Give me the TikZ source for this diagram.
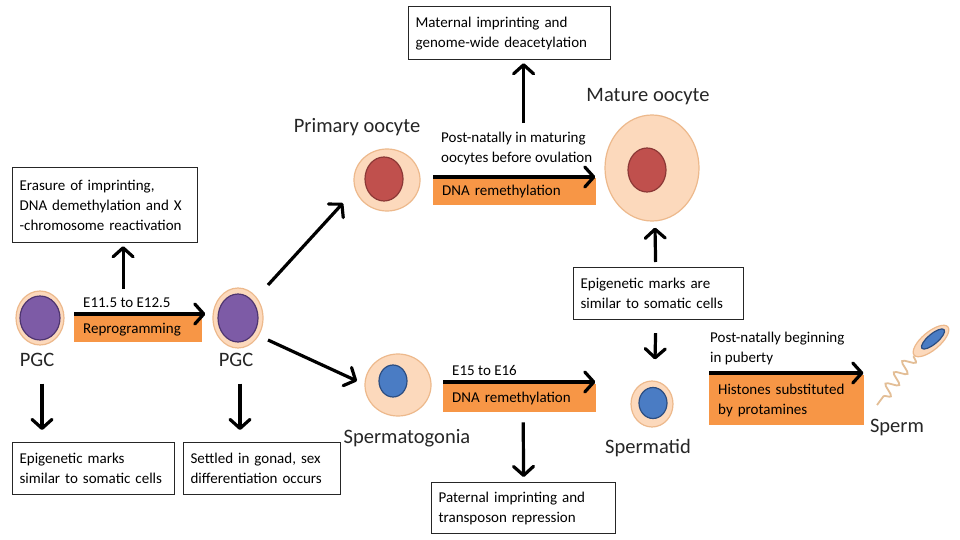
\documentclass[tikz,border=0pt]{standalone}
\usepackage{fontspec}
\setmainfont{Carlito}
\usetikzlibrary{arrows.meta,shapes.geometric,calc,decorations.pathmorphing}
\definecolor{cellF}{HTML}{FCD9BC}
\definecolor{cellE}{HTML}{EDB98C}
\definecolor{purF}{HTML}{7D5BA6}
\definecolor{purE}{HTML}{4E3570}
\definecolor{redF}{HTML}{C0504D}
\definecolor{redE}{HTML}{8C3836}
\definecolor{bluF}{HTML}{4A7CC4}
\definecolor{bluE}{HTML}{2C4D80}
\definecolor{orgF}{HTML}{F79646}
\definecolor{labC}{HTML}{262626}
\definecolor{tailC}{HTML}{E3BE96}
\begin{document}
\begin{tikzpicture}[x=1pt,y=-1pt,
  cell/.style={ellipse, draw=cellE, fill=cellF, line width=1.2pt, inner sep=0pt},
  nucP/.style={ellipse, draw=purE, fill=purF, line width=1.2pt, inner sep=0pt},
  nucR/.style={ellipse, draw=redE, fill=redF, line width=1.2pt, inner sep=0pt},
  nucB/.style={ellipse, draw=bluE, fill=bluF, line width=1.2pt, inner sep=0pt},
  tbox/.style={draw=black!85, line width=1.2pt, anchor=north west, align=left,
    inner xsep=7pt, inner ysep=0pt, font=\fontsize{15}{20}\selectfont},
  obox/.style={fill=orgF, anchor=north west, align=left, inner xsep=9pt, inner ysep=0pt,
    font=\fontsize{15}{20}\selectfont},
  lab/.style={text=labC, inner sep=0pt, font=\fontsize{20.5}{24}\selectfont},
  alab/.style={anchor=west, align=left, inner sep=0pt, font=\fontsize{15}{20.5}\selectfont},
  arr/.style={line width=3.2pt, -{Straight Barb[length=9pt,width=20pt,round]}}
]
\useasboundingbox (0,0) rectangle (960,540);
\fill[white] (0,0) rectangle (960,540);

% cells
\node[cell, minimum width=48, minimum height=54] (pgc1) at (40,318) {};
\node[nucP, minimum width=40, minimum height=44] (pgc1n) at (40,318) {};
\node[cell, minimum width=50, minimum height=60] (pgc2) at (238,318) {};
\node[nucP, minimum width=40, minimum height=48] (pgc2n) at (238,318) {};
\node[cell, minimum width=66, minimum height=62] (prim) at (387,180) {};
\node[nucR, minimum width=38, minimum height=44] (primn) at (384,179) {};
\node[cell, minimum width=94, minimum height=106] (mature) at (652,168) {};
\node[nucR, minimum width=38, minimum height=44] (maturen) at (647,170) {};
\node[cell, minimum width=66, minimum height=62] (sg) at (398,385) {};
\node[nucB, minimum width=28, minimum height=32] (sgn) at (393,381) {};
\node[cell, minimum width=42, minimum height=46] (sptd) at (652,404) {};
\node[nucB, minimum width=28, minimum height=31] (sptdn) at (653,403) {};
\node[cell, rotate=40, minimum width=44, minimum height=18] (sphead) at (931,341) {};
\node[nucB, rotate=40, minimum width=29, minimum height=10] (spheadn) at (933,339) {};
\coordinate (tailend) at (877,405);
\draw[tailC, line width=1.8pt, decorate, decoration={snake, amplitude=6pt, segment length=14pt, post length=6pt}] (sphead.west) -- (tailend);

% cell labels
\node[lab] (l1) at (37,360) {PGC};
\node[lab] (l2) at (236,360) {PGC};
\node[lab] (l3) at (357,127) {Primary oocyte};
\node[lab] (l4) at (648,97) {Mature oocyte};
\node[lab] (l5) at (407,438) {Spermatogonia};
\node[lab] (l6) at (648,448) {Spermatid};
\node[lab] (l7) at (897,427) {Sperm};

% text boxes
\node[tbox, minimum width=185, minimum height=75, text width=171] (erase) at (12,167)
  {Erasure of imprinting,\\DNA demethylation and X\\-chromosome reactivation};
\node[tbox, minimum width=202, minimum height=53, text width=188] (mat) at (408,6)
  {Maternal imprinting and\\genome-wide deacetylation};
\node[tbox, minimum width=170, minimum height=52, text width=156] (epiR) at (573,267)
  {Epigenetic marks are\\similar to somatic cells};
\node[tbox, minimum width=162, minimum height=52, text width=148] (box1) at (12,442)
  {Epigenetic marks\\similar to somatic cells};
\node[tbox, minimum width=157, minimum height=52, text width=143] (box2) at (183,442)
  {Settled in gonad, sex\\differentiation occurs};
\node[tbox, minimum width=184, minimum height=51, text width=170] (pat) at (431,482)
  {Paternal imprinting and\\transposon repression};

% orange boxes
\node[obox, minimum width=128, minimum height=26, text width=110] (rp) at (74,316) {Reprogramming};
\node[obox, minimum width=163, minimum height=27, text width=145] (dnaO) at (433,178) {DNA remethylation};
\node[obox, minimum width=153, minimum height=28, text width=135] (dnaS) at (443,384) {DNA remethylation};
\node[obox, minimum width=155, minimum height=50, text width=137] (hist) at (709,375) {Histones substituted\\by protamines};

% arrow labels
\node[alab] (t1) at (83,303) {E11.5 to E12.5};
\node[alab] (t2) at (441,148.5) {Post-natally in maturing\\oocytes before ovulation};
\node[alab] (t3) at (452,370) {E15 to E16};
\node[alab] (t4) at (710,348.5) {Post-natally beginning\\in puberty};

% arrows along orange boxes
\draw[arr] ($(rp.north west)+(0,-2)$) -- ($(rp.north east)+(3,-2)$);
\draw[arr] ($(dnaO.north west)+(0,-1)$) -- ($(dnaO.north east)+(-1,-1)$);
\draw[arr] ($(dnaS.north west)+(0,-2)$) -- ($(dnaS.north east)+(-1,-2)$);
\draw[arr] ($(hist.north west)+(0,-2)$) -- ($(hist.north east)+(-1,-2)$);

% other arrows
\draw[arr] ($(erase.south)+(18,46)$) -- ($(erase.south)+(18,3)$);
\draw[arr] ($(pgc2.center)+(30,-33)$) -- ($(prim.center)+(-44,23)$);
\draw[arr] ($(pgc2.center)+(30,22)$) -- ($(sg.center)+(-41,-4)$);
\draw[arr] ($(pgc1.south)+(2,38)$) -- ($(box1.north west)+(30,-12)$);
\draw[arr] ($(pgc2.south)+(2,35)$) -- ($(box2.north west)+(57,-12)$);
\draw[arr] ($(mat.south)+(14,63)$) -- ($(mat.south)+(14,3)$);
\draw[arr] ($(epiR.north)+(-3,-5)$) -- ($(mature.south)+(3,6)$);
\draw[arr] ($(epiR.south)+(-3,13)$) -- ($(sptd.north)+(3,-21)$);
\draw[arr] ($(dnaS.south)+(3.5,10)$) -- ($(pat.north)+(0,-5)$);
\end{tikzpicture}
\end{document}
